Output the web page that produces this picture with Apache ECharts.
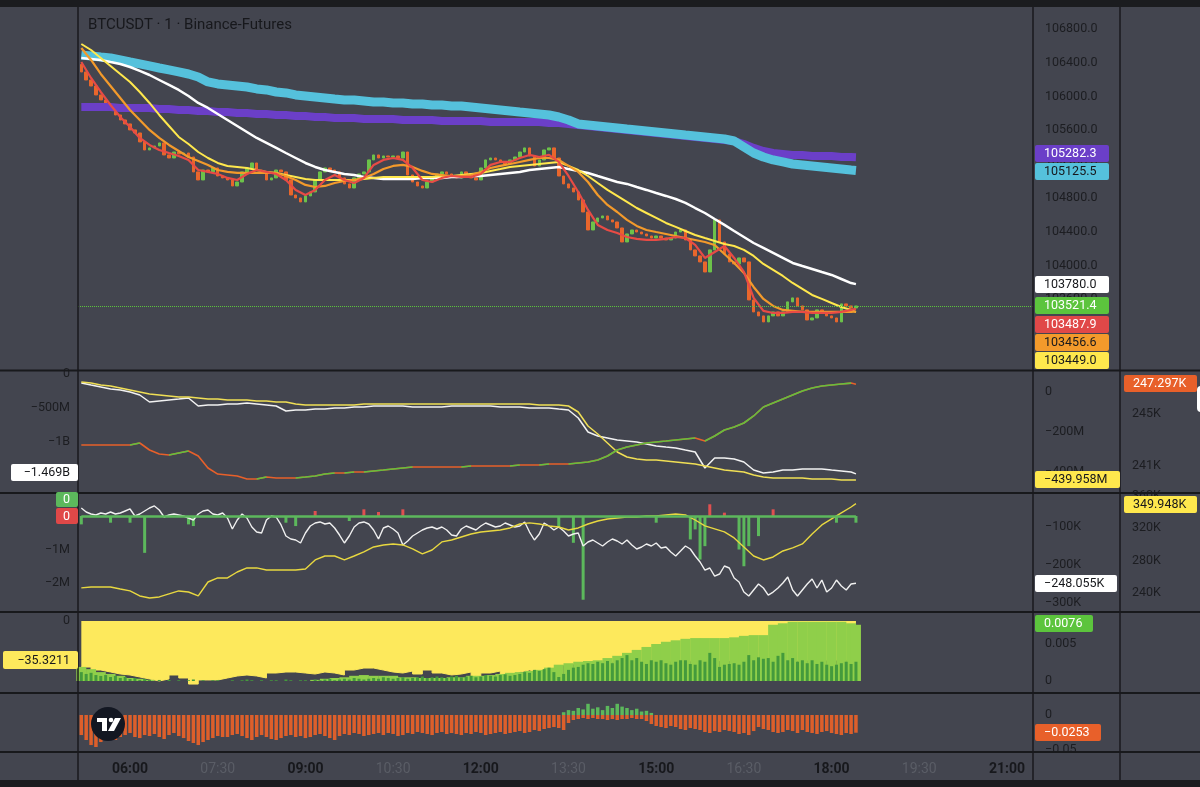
<!DOCTYPE html>
<html>
<head>
<meta charset="utf-8">
<title>BTCUSDT · 1 · Binance-Futures</title>
<script src="https://cdn.jsdelivr.net/npm/echarts@6/dist/echarts.min.js"></script>
<style>
  html, body { margin: 0; padding: 0; background: #43454f; }
  #main { width: 1200px; height: 787px; }
</style>
</head>
<body>
<div id="main"></div>
<script>
// time is in minutes since midnight; 5-min and 10-min samples
var T0 = 310;
var T_END = 1105;
var xTicks = [360, 450, 540, 630, 720, 810, 900, 990, 1080, 1170, 1260];

// ---- main pane: BTCUSDT 1m (sampled every 5 min) ----
var priceOpen = 106380;
var priceClose = [
  106291, 106196, 106125, 106019, 105960, 105912, 105865, 105782, 105723, 105676,
  105605, 105569, 105463, 105368, 105392, 105415, 105451, 105309, 105273, 105344,
  105321, 105332, 105285, 105108, 105013, 105131, 105108, 105155, 105060, 105037,
  105013, 104942, 104989, 105108, 105155, 105214, 105131, 105108, 105013, 105037,
  105131, 105108, 105013, 104835, 104800, 104753, 104824, 104871, 105013, 105108,
  105155, 105131, 105108, 105037, 104966, 104918, 105037, 105084, 105108, 105250,
  105309, 105273, 105297, 105285, 105297, 105273, 105344, 105072, 104989, 104942,
  104918, 104989, 105037, 105084, 105108, 105084, 105060, 105037, 105108, 105084,
  105037, 105013, 105155, 105250, 105273, 105250, 105226, 105202, 105250, 105285,
  105344, 105392, 105297, 105179, 105250, 105368, 105392, 105273, 105060, 104966,
  104918, 104871, 104776, 104634, 104421, 104516, 104563, 104587, 104540, 104516,
  104445, 104279, 104374, 104421, 104397, 104374, 104350, 104326, 104350, 104326,
  104303, 104326, 104397, 104421, 104303, 104185, 104114, 104043, 103924, 104185,
  104540, 104279, 104137, 104043, 104019, 104090, 104043, 103593, 103451, 103404,
  103333, 103404, 103451, 103404, 103451, 103570, 103617, 103522, 103475, 103356,
  103380, 103475, 103451, 103404, 103380, 103333, 103546, 103522, 103498, 103521.4
];

// moving averages (sampled every 10 min, last point at 18:25)
var maRed = [
  106409, 106220, 106054, 105900, 105758, 105640, 105510, 105427, 105368, 105332,
  105297, 105250, 105131, 105108, 105084, 105037, 105013, 105084, 105131, 105108,
  105084, 105013, 104895, 104835, 104895, 105013, 105072, 105013, 104977, 105037,
  105191, 105250, 105273, 105250, 105155, 105013, 104989, 105037, 105060, 105049,
  105049, 105084, 105191, 105226, 105226, 105273, 105309, 105285, 105309, 105226,
  105060, 104871, 104658, 104481, 104421, 104386, 104338, 104315, 104303, 104303,
  104315, 104338, 104326, 104244, 104090, 104161, 104232, 104090, 103924, 103617,
  103463, 103439, 103439, 103451, 103451, 103439, 103439, 103439, 103451, 103475,
  103487.9
];
var maOrange = [
  106575, 106433, 106267, 106125, 105983, 105841, 105723, 105605, 105510, 105427,
  105356, 105285, 105238, 105191, 105131, 105108, 105096, 105096, 105096, 105096,
  105096, 105060, 105013, 104954, 104930, 104942, 104977, 105001, 105013, 105037,
  105084, 105143, 105179, 105191, 105167, 105120, 105084, 105072, 105060, 105060,
  105072, 105108, 105155, 105179, 105202, 105226, 105250, 105273, 105273, 105250,
  105179, 105108, 104989, 104835, 104717, 104634, 104540, 104469, 104421, 104397,
  104374, 104350, 104326, 104303, 104279, 104244, 104137, 104031, 103912, 103747,
  103605, 103522, 103475, 103463, 103451, 103451, 103451, 103451, 103451, 103451,
  103456.6
];
var maYellow = [
  106622, 106551, 106457, 106362, 106267, 106173, 106054, 105924, 105782, 105652,
  105522, 105439, 105344, 105273, 105214, 105179, 105167, 105155, 105131, 105108,
  105096, 105072, 105049, 105025, 105013, 105013, 105013, 105013, 105013, 105025,
  105037, 105049, 105049, 105049, 105049, 105049, 105049, 105060, 105060, 105072,
  105084, 105096, 105120, 105143, 105167, 105179, 105191, 105202, 105214, 105226,
  105179, 105131, 105060, 104977, 104895, 104824, 104753, 104681, 104622, 104563,
  104504, 104457, 104409, 104362, 104326, 104291, 104255, 104232, 104185, 104114,
  104019, 103948, 103877, 103794, 103723, 103652, 103605, 103557, 103510, 103475,
  103449.0
];
var maWhite = [
  106457, 106445, 106433, 106409, 106386, 106350, 106303, 106255, 106196, 106137,
  106078, 106007, 105924, 105865, 105794, 105723, 105652, 105581, 105510, 105451,
  105392, 105332, 105273, 105214, 105167, 105131, 105108, 105084, 105072, 105049,
  105037, 105025, 105025, 105025, 105025, 105037, 105037, 105037, 105049, 105049,
  105060, 105060, 105072, 105084, 105096, 105108, 105131, 105143, 105155, 105167,
  105143, 105120, 105096, 105060, 105025, 104989, 104966, 104930, 104895, 104859,
  104824, 104788, 104741, 104681, 104622, 104551, 104481, 104409, 104338, 104267,
  104208, 104149, 104090, 104031, 103995, 103960, 103924, 103889, 103841, 103793,
  103780.0
];
var maCyan = [
  106492, 106480, 106468, 106457, 106433, 106409, 106386, 106362, 106338, 106315,
  106291, 106267, 106232, 106173, 106149, 106137, 106125, 106113, 106090, 106078,
  106054, 106043, 106019, 106007, 105995, 105983, 105971, 105960, 105960, 105948,
  105936, 105936, 105924, 105924, 105912, 105912, 105900, 105900, 105889, 105889,
  105877, 105865, 105853, 105841, 105829, 105817, 105806, 105794, 105782, 105758,
  105723, 105676, 105664, 105652, 105640, 105628, 105616, 105605, 105593, 105581,
  105569, 105557, 105545, 105534, 105522, 105510, 105498, 105474, 105403, 105332,
  105285, 105250, 105226, 105202, 105191, 105179, 105167, 105155, 105143, 105131,
  105125.5
];
var maPurple = [
  105877, 105877, 105877, 105877, 105865, 105865, 105865, 105865, 105853, 105853,
  105841, 105841, 105829, 105829, 105817, 105817, 105806, 105806, 105794, 105794,
  105782, 105782, 105770, 105770, 105758, 105758, 105747, 105747, 105747, 105735,
  105735, 105735, 105735, 105723, 105723, 105723, 105723, 105711, 105711, 105711,
  105711, 105711, 105699, 105699, 105699, 105699, 105699, 105699, 105687, 105687,
  105676, 105664, 105652, 105640, 105628, 105616, 105605, 105593, 105581, 105569,
  105557, 105545, 105534, 105522, 105510, 105498, 105486, 105474, 105439, 105392,
  105356, 105332, 105321, 105309, 105309, 105297, 105297, 105297, 105285, 105285,
  105282.3
];

// ---- pane 2 (10-min) ----
var p2White = [   // M, left scale
  -132, -162, -191, -221, -235, -265, -309, -412, -397, -382,
  -368, -353, -471, -456, -456, -441, -441, -426, -441, -456,
  -471, -544, -529, -529, -515, -515, -500, -500, -485, -485,
  -471, -471, -471, -471, -485, -485, -485, -485, -471, -471,
  -471, -471, -471, -485, -485, -485, -500, -500, -500, -515,
  -529, -647, -853, -912, -941, -971, -985, -1000, -1029, -1059,
  -1074, -1088, -1118, -1147, -1382, -1235, -1235, -1250, -1294, -1412,
  -1456, -1441, -1412, -1412, -1397, -1397, -1397, -1412, -1426, -1441,
  -1469
];
var p2Yellow = [  // M, right scale
  50, 45, 35, 30, 20, 10, 0, -10, -15, -20,
  -25, -25, -30, -35, -35, -40, -40, -40, -45, -45,
  -50, -50, -60, -65, -65, -65, -65, -65, -65, -60,
  -60, -60, -60, -60, -60, -60, -60, -60, -60, -60,
  -60, -60, -60, -60, -60, -60, -60, -65, -65, -65,
  -70, -100, -170, -210, -255, -300, -325, -335, -340, -340,
  -345, -350, -355, -360, -370, -380, -390, -395, -400, -415,
  -425, -430, -430, -430, -430, -435, -435, -435, -440, -440,
  -439.958
];
var p2Delta = [   // K, outer right scale
  242.62, 242.62, 242.62, 242.62, 242.62, 242.62, 242.77, 242.23, 241.92, 241.85,
  242.0, 242.15, 241.77, 240.85, 240.38, 240.31, 240.23, 240.0, 240.0, 240.15,
  240.08, 240.08, 240.08, 240.15, 240.23, 240.38, 240.46, 240.46, 240.54, 240.54,
  240.62, 240.69, 240.77, 240.85, 240.92, 240.92, 240.92, 240.92, 240.92, 240.92,
  241.0, 241.0, 241.0, 241.0, 241.0, 241.08, 241.08, 241.08, 241.15, 241.15,
  241.15, 241.23, 241.31, 241.46, 241.77, 242.23, 242.46, 242.62, 242.77, 242.85,
  242.92, 243.0, 243.08, 243.15, 242.92, 243.31, 243.77, 244.0, 244.31, 244.85,
  245.54, 245.85, 246.15, 246.46, 246.77, 247.0, 247.15, 247.23, 247.31, 247.38,
  247.297
];

// ---- pane 3 ----
var p3White = [   // K, 5-min
  -50.0, -60.5, -65.8, -68.4, -63.2, -65.8, -60.5, -65.8, -63.2, -57.9,
  -52.6, -71.1, -65.8, -57.9, -50.0, -44.7, -55.3, -73.7, -68.4, -65.8,
  -68.4, -71.1, -76.3, -81.6, -65.8, -57.9, -55.3, -65.8, -68.4, -63.2,
  -76.3, -105.3, -81.6, -65.8, -76.3, -100.0, -113.2, -115.8, -81.6, -71.1,
  -73.7, -94.7, -123.7, -131.6, -134.2, -142.1, -115.8, -97.4, -89.5, -86.8,
  -92.1, -89.5, -102.6, -121.1, -142.1, -123.7, -100.0, -89.5, -86.8, -92.1,
  -107.9, -131.6, -102.6, -97.4, -105.3, -115.8, -147.4, -136.8, -123.7, -115.8,
  -107.9, -102.6, -100.0, -105.3, -100.0, -107.9, -121.1, -123.7, -105.3, -97.4,
  -102.6, -107.9, -97.4, -89.5, -94.7, -100.0, -97.4, -89.5, -94.7, -100.0,
  -97.4, -86.8, -113.2, -134.2, -118.4, -89.5, -97.4, -107.9, -100.0, -110.5,
  -123.7, -118.4, -115.8, -150.0, -139.5, -134.2, -142.1, -150.0, -139.5, -131.6,
  -136.8, -144.7, -134.2, -147.4, -157.9, -152.6, -144.7, -150.0, -142.1, -155.3,
  -152.6, -165.8, -176.3, -163.2, -150.0, -157.9, -176.3, -192.1, -213.2, -207.9,
  -229.0, -223.7, -202.6, -207.9, -234.2, -244.8, -271.1, -281.6, -265.8, -250.0,
  -260.5, -279.0, -271.1, -260.5, -247.4, -231.6, -265.8, -281.6, -265.8, -250.0,
  -236.8, -260.5, -239.5, -271.1, -260.5, -239.5, -255.3, -265.8, -250.0, -248.055
];
var p3Yellow = [  // K, 10-min
  246.2, 247.4, 247.4, 247.4, 244.9, 242.5, 236.3, 233.8, 235.1, 238.8,
  242.5, 241.2, 236.3, 253.5, 258.5, 258.5, 265.8, 270.8, 270.8, 268.3,
  268.3, 268.3, 268.3, 269.5, 280.6, 285.5, 285.5, 280.6, 285.5, 290.5,
  296.6, 299.1, 300.3, 299.1, 294.2, 288.0, 292.9, 302.8, 305.2, 308.9,
  312.6, 315.1, 316.3, 317.5, 320.0, 324.9, 326.2, 324.9, 322.5, 321.2,
  317.5, 320.0, 324.9, 328.6, 331.1, 332.3, 333.5, 333.5, 334.8, 334.8,
  336.0, 337.2, 336.0, 329.8, 322.5, 318.8, 315.1, 307.7, 296.6, 285.5,
  280.6, 284.3, 291.7, 295.4, 300.3, 312.6, 323.7, 331.1, 338.5, 345.8,
  349.948
];
// histogram spikes [minute, M]
var p3HistDown = [
  [310, -0.25], [340, -0.2], [360, -0.2], [375, -1.1], [420, -0.25], [425, -0.3],
  [520, -0.2], [530, -0.3], [585, -0.15], [800, -0.35], [815, -0.8], [825, -2.5],
  [900, -0.2], [935, -0.7], [940, -0.4], [945, -1.3], [950, -0.9], [985, -1.0],
  [990, -1.5], [995, -0.9], [1005, -0.6], [1085, -0.2], [1105, -0.2]
];
var p3HistUp = [
  [550, 0.15], [600, 0.2], [615, 0.12], [640, 0.2], [955, 0.35], [970, 0.1], [1020, 0.2]
];

// ---- pane 4 ----
var p4Yellow = [  // left scale, 10-min
  -41.7, -44.4, -46.2, -48.0, -48.9, -50.7, -52.5, -54.3, -52.5, -48.9,
  -51.6, -57.1, -53.4, -53.4, -51.6, -49.8, -48.9, -49.8, -51.6, -47.1,
  -46.2, -46.2, -47.1, -48.0, -46.2, -47.1, -48.9, -44.4, -42.6, -42.6,
  -44.4, -46.2, -47.1, -45.3, -48.0, -44.4, -47.1, -48.9, -48.0, -46.2,
  -49.8, -47.1, -45.3, -48.0, -46.2, -44.4, -46.2, -45.3, -42.6, -39.8,
  -38.0, -37.6, -37.4, -37.2, -37.0, -36.8, -36.6, -36.5, -36.4, -36.3,
  -36.2, -36.1, -36.0, -35.9, -35.9, -35.8, -35.8, -35.7, -35.7, -35.6,
  -35.6, -35.5, -35.5, -35.5, -35.4, -35.4, -35.4, -35.4, -35.3, -35.3,
  -35.3211
];
var p4Light = [   // right scale, 10-min
  0.0019, 0.0016, 0.0012, 0.00095, 0.0007, 0.0004, 0.0003, 0.00015, 0, 0,
  0, 0, 0, 0, 0, 0, 0, 0, 0, 0,
  0, 0, 0, 0, 0.00015, 0.0003, 0.0004, 0.0005, 0.0007, 0.0008,
  0.0007, 0.0007, 0.0007, 0.0005, 0.0005, 0.0004, 0.0004, 0.0004, 0.0005, 0.0005,
  0.0007, 0.0007, 0.0008, 0.00095, 0.0011, 0.0012, 0.00135, 0.0015, 0.0018, 0.0022,
  0.0024, 0.0026, 0.0027, 0.0028, 0.0031, 0.0034, 0.0038, 0.0042, 0.0046, 0.005,
  0.0053, 0.0055, 0.0057, 0.0058, 0.0058, 0.0058, 0.0058, 0.0059, 0.0061, 0.0062,
  0.0062, 0.0076, 0.0078, 0.008, 0.008, 0.008, 0.008, 0.008, 0.008, 0.0078,
  0.0076
];
var p4Dark = [    // right scale, 5-min
  0.0012, 0.00095, 0.0011, 0.0008, 0.00068, 0.0008, 0.00054, 0.00068, 0.0004, 0.00054,
  0.00027, 0.0004, 0.00014, 0.00027, 0.00014, 0, 0.00014, 0, 0.00014, 0,
  0.0001, 0, 0.0001, 0.0002, 0, 0.0001, 0, 0.0001, 0.0001, 0,
  0, 0.0001, 0, 0.0001, 0.0002, 0.0001, 0, 0.0001, 0, 0.0001,
  0.0001, 0, 0.0002, 0.0001, 0, 0.0001, 0.0001, 0, 0.0002, 0.0001,
  0.0002, 0.0003, 0.0001, 0.0002, 0.0003, 0.0002, 0.0004, 0.0003, 0.0002, 0.0003,
  0.0004, 0.0003, 0.0005, 0.0004, 0.0003, 0.0004, 0.0005, 0.0003, 0.0004, 0.0005,
  0.0006, 0.0004, 0.0005, 0.0006, 0.0005, 0.0004, 0.0006, 0.0007, 0.0005, 0.0006,
  0.0007, 0.0005, 0.0006, 0.0008, 0.0007, 0.0006, 0.0008, 0.0009, 0.0007, 0.0008,
  0.00095, 0.0012, 0.0011, 0.0015, 0.00135, 0.0016, 0.0018, 0.0012, 0.00054, 0.00095,
  0.0015, 0.0018, 0.0019, 0.0022, 0.0024, 0.0023, 0.0026, 0.0024, 0.0027, 0.0024,
  0.0028, 0.0031, 0.0035, 0.0028, 0.0031, 0.0026, 0.0023, 0.0028, 0.0026, 0.0028,
  0.0024, 0.0022, 0.0026, 0.0028, 0.0028, 0.0023, 0.0022, 0.0028, 0.0026, 0.0038,
  0.0031, 0.0019, 0.0022, 0.0023, 0.0024, 0.0022, 0.0026, 0.0035, 0.0028, 0.0032,
  0.003, 0.0031, 0.0026, 0.0034, 0.0038, 0.0028, 0.0031, 0.0026, 0.0028, 0.0024,
  0.0028, 0.0023, 0.0026, 0.0022, 0.002, 0.0022, 0.0024, 0.0026, 0.0023, 0.0026
];

// ---- pane 5 ----
var p5Down = [    // 5-min
  -0.0286, -0.0357, -0.0429, -0.0457, -0.0386, -0.0329, -0.03, -0.0357, -0.0314, -0.0286,
  -0.0257, -0.0314, -0.0329, -0.0286, -0.03, -0.0271, -0.0314, -0.0343, -0.0286, -0.0257,
  -0.03, -0.0329, -0.0371, -0.04, -0.0429, -0.0386, -0.0357, -0.0329, -0.03, -0.0314,
  -0.0314, -0.0286, -0.0271, -0.03, -0.0329, -0.0357, -0.0314, -0.0286, -0.0314, -0.0343,
  -0.0357, -0.0329, -0.03, -0.0286, -0.0314, -0.03, -0.0329, -0.0314, -0.0286, -0.0271,
  -0.03, -0.0329, -0.0357, -0.03, -0.0271, -0.0286, -0.0257, -0.0271, -0.03, -0.0286,
  -0.0271, -0.0257, -0.0286, -0.0257, -0.0271, -0.03, -0.0286, -0.0257, -0.0271, -0.0243,
  -0.0257, -0.0271, -0.0286, -0.0257, -0.0243, -0.0271, -0.0257, -0.0271, -0.0286, -0.0257,
  -0.0271, -0.0243, -0.0257, -0.0286, -0.0271, -0.0257, -0.0243, -0.0271, -0.0257, -0.0243,
  -0.0229, -0.0257, -0.0243, -0.0214, -0.0229, -0.02, -0.0186, -0.0171, -0.0186, -0.0214,
  -0.0114, -0.0071, -0.0057, -0.0043, -0.0057, -0.0043, -0.0057, -0.0057, -0.0071, -0.0057,
  -0.0071, -0.0057, -0.0057, -0.0043, -0.0057, -0.0057, -0.0086, -0.0129, -0.0157, -0.0171,
  -0.0186, -0.0157, -0.0171, -0.02, -0.0214, -0.0186, -0.02, -0.0214, -0.0243, -0.0257,
  -0.0229, -0.0243, -0.0214, -0.0229, -0.0243, -0.0271, -0.0257, -0.0286, -0.0229, -0.0171,
  -0.02, -0.0214, -0.0243, -0.0257, -0.0243, -0.0214, -0.0229, -0.0257, -0.0214, -0.0243,
  -0.0257, -0.0271, -0.0243, -0.0229, -0.0257, -0.0271, -0.0286, -0.0257, -0.0271, -0.0253
];
var p5Up = [
  [805, 0.004], [810, 0.007], [815, 0.006], [820, 0.01], [825, 0.008], [830, 0.016],
  [835, 0.009], [840, 0.011], [845, 0.007], [850, 0.013], [855, 0.01], [860, 0.016],
  [865, 0.012], [870, 0.01], [875, 0.007], [880, 0.009], [885, 0.005], [890, 0.006], [895, 0.003]
];

var FONT = "Roboto, 'Liberation Sans', sans-serif";
var AXIS_TXT = "#1c1d21";

function times5(n) {
  var a = [];
  for (var i = 0; i < n; i++) a.push(T0 + i * 5);
  return a;
}
function times10(n) {
  var a = [];
  for (var i = 0; i < n; i++) a.push(i === n - 1 ? T_END : T0 + i * 10);
  return a;
}
function pairs(ts, vs) {
  return vs.map(function (v, i) { return [ts[i], v]; });
}
// only the rising segments, split with empty points
function risingSegments(ts, vs) {
  var out = [];
  for (var i = 1; i < vs.length; i++) {
    if (vs[i] > vs[i - 1]) {
      out.push([ts[i - 1], vs[i - 1]], [ts[i], vs[i]], [ts[i], "-"]);
    }
  }
  return out;
}
function minus(s) { return "\u2212" + s; }

function xAx(grid, showLabel) {
  return {
    type: "value", gridIndex: grid, min: 306.6, max: 1286.7,
    axisLine: { show: false }, axisTick: { show: false }, splitLine: { show: false },
    axisLabel: showLabel ? {
      customValues: xTicks, margin: 11,
      formatter: function (v) {
        var h = Math.floor(v / 60), m = v % 60;
        var s = (h < 10 ? "0" : "") + h + ":" + (m < 10 ? "0" : "") + m;
        return m === 0 ? "{b|" + s + "}" : "{n|" + s + "}";
      },
      rich: {
        b: { fontFamily: FONT, fontSize: 14, fontWeight: "bold", color: "#17181c" },
        n: { fontFamily: FONT, fontSize: 14, color: "#5a5d66" }
      }
    } : { show: false }
  };
}
function yAx(grid, pos, min, max, ticks, fmt, offset) {
  return {
    type: "value", gridIndex: grid, position: pos, offset: offset || 0,
    min: min, max: max,
    axisLine: { show: false }, axisTick: { show: false }, splitLine: { show: false },
    axisLabel: {
      customValues: ticks, formatter: fmt, color: AXIS_TXT,
      fontFamily: FONT, fontSize: 12.5, margin: pos === "left" ? 8 : 12
    }
  };
}
function badge(x, y, w, h, bg, fg, text, align) {
  return {
    type: "group", z: 100,
    children: [
      { type: "rect", z: 100, shape: { x: x, y: y, width: w, height: h, r: 2 }, style: { fill: bg } },
      { type: "text", z: 101, style: {
        text: text, x: align === "right" ? x + w - 8 : x + 9, y: y + h / 2 + 0.5,
        align: align || "left", verticalAlign: "middle", fill: fg,
        font: "12.5px " + FONT
      } }
    ]
  };
}
function hline(y, x1, x2, w) {
  return { type: "line", z: 99, shape: { x1: x1, y1: y, x2: x2, y2: y }, style: { stroke: "#18191c", lineWidth: w || 2 } };
}
function vline(x, y1, y2) {
  return { type: "line", z: 99, shape: { x1: x, y1: y1, x2: x, y2: y2 }, style: { stroke: "#18191c", lineWidth: 1.5 } };
}
function lineSeries(xi, yi, data, color, width, extra) {
  var s = {
    type: "line", xAxisIndex: xi, yAxisIndex: yi, data: data,
    showSymbol: false, symbol: "none", silent: true,
    lineStyle: { color: color, width: width }
  };
  for (var k in extra) s[k] = extra[k];
  return s;
}

function init_chart(container) {
  var chart = echarts.init(document.getElementById(container), null, { renderer: "canvas" });
  var t5 = times5(priceClose.length);
  var t10 = times10(maRed.length);

  var candles = priceClose.map(function (c, i) {
    var o = i === 0 ? priceOpen : priceClose[i - 1];
    return [t5[i], o, c, Math.min(o, c), Math.max(o, c)];
  });
  var lastClose = priceClose[priceClose.length - 1];

  var option = {
    animation: false,
    backgroundColor: "#43454f",
    grid: [
      { left: 78, right: 167, top: 8, height: 362 },
      { left: 78, right: 167, top: 371, height: 121 },
      { left: 78, right: 167, top: 494, height: 117 },
      { left: 78, right: 167, top: 613, height: 79 },
      { left: 78, right: 167, top: 694, height: 57 }
    ],
    xAxis: [xAx(0), xAx(1), xAx(2), xAx(3), xAx(3), xAx(4, true)],
    yAxis: [
      yAx(0, "right", 102764, 107048,
        [103600, 104000, 104400, 104800, 105200, 105600, 106000, 106400, 106800],
        function (v) { return v.toFixed(1); }),
      yAx(1, "left", -1735, 44, [0, -500, -1000, -1500], function (v) {
        if (v === 0) return "0";
        return Math.abs(v) >= 1000 ? minus(Math.abs(v) / 1000 + "B") : minus(Math.abs(v) + "M");
      }),
      yAx(1, "right", -500, 105, [0, -200, -400], function (v) {
        return v === 0 ? "0" : minus(Math.abs(v) + "M");
      }),
      yAx(1, "right", 239.0, 248.31, [241, 245], function (v) { return v + "K"; }, 87),
      yAx(2, "left", -2.836, 0.657, [0, -1, -2], function (v) {
        return v === 0 ? "0" : minus(Math.abs(v) + "M");
      }),
      yAx(2, "right", -321, -13.2, [-100, -200, -300], function (v) { return minus(Math.abs(v) + "K"); }),
      yAx(2, "right", 217.8, 361.8, [240, 280, 320, 360], function (v) { return v + "K"; }, 87),
      yAx(3, "left", -64.3, 7.25, [0], function () { return "0"; }),
      yAx(3, "right", -0.00149, 0.00919, [0, 0.005], function (v) { return v === 0 ? "0" : String(v); }),
      yAx(4, "right", -0.0514, 0.03, [0, -0.05], function (v) { return v === 0 ? "0" : minus(Math.abs(v)); })
    ],
    series: [
      {
        type: "candlestick", xAxisIndex: 0, yAxisIndex: 0, data: candles,
        encode: { x: 0, y: [1, 2, 3, 4] }, barWidth: 3, silent: true,
        itemStyle: { color: "#6cc24a", color0: "#e8662c", borderColor: "#6cc24a", borderColor0: "#e8662c", borderWidth: 1 },
        markLine: {
          silent: true, symbol: "none", label: { show: false },
          lineStyle: { type: "dotted", color: "#5cc43d", width: 1 },
          data: [{ yAxis: lastClose }]
        }
      },
      lineSeries(0, 0, pairs(t10, maPurple), "#6b3fc8", 8),
      lineSeries(0, 0, pairs(t10, maCyan), "#55c1dc", 9),
      lineSeries(0, 0, pairs(t10, maWhite), "#ffffff", 2.5),
      lineSeries(0, 0, pairs(t10, maYellow), "#ffe84d", 2),
      lineSeries(0, 0, pairs(t10, maOrange), "#f39a2b", 2.2),
      lineSeries(0, 0, pairs(t10, maRed), "#e84b45", 2.2),

      lineSeries(1, 1, pairs(t10, p2White), "#f2f2f2", 1.5),
      lineSeries(1, 2, pairs(t10, p2Yellow), "#f0df55", 1.5),
      lineSeries(1, 3, pairs(t10, p2Delta), "#e8602a", 1.6),
      lineSeries(1, 3, risingSegments(t10, p2Delta), "#62c03f", 1.6, { connectNulls: false }),

      {
        type: "bar", xAxisIndex: 2, yAxisIndex: 4, data: p3HistDown, barWidth: 3, barGap: "-100%",
        silent: true, itemStyle: { color: "#5cb85c" },
        markLine: {
          silent: true, symbol: "none", label: { show: false },
          lineStyle: { type: "solid", color: "#5cb85c", width: 2.5 },
          data: [[{ coord: [T0, 0] }, { coord: [T_END, 0] }]]
        }
      },
      { type: "bar", xAxisIndex: 2, yAxisIndex: 4, data: p3HistUp, barWidth: 3, barGap: "-100%",
        silent: true, itemStyle: { color: "#e05050" } },
      lineSeries(2, 5, pairs(t5, p3White), "#f0f0f0", 1.4),
      lineSeries(2, 6, pairs(t10, p3Yellow), "#e8d840", 1.4),

      lineSeries(3, 7, pairs(t10, p4Yellow), "#fde95c", 1, {
        step: "end", z: 1, areaStyle: { color: "#fde95c", opacity: 1 }
      }),
      { type: "bar", xAxisIndex: 3, yAxisIndex: 8, data: pairs(t10, p4Light), barWidth: 10, z: 3,
        silent: true, itemStyle: { color: "#8fcf4a" } },
      { type: "bar", xAxisIndex: 4, yAxisIndex: 8, data: pairs(t5, p4Dark), barWidth: 3, z: 4,
        silent: true, itemStyle: { color: "#449a3c" } },

      { type: "bar", xAxisIndex: 5, yAxisIndex: 9, data: pairs(t5, p5Down), barWidth: 3.5, barGap: "-100%",
        silent: true, itemStyle: { color: "#dd5f2b" } },
      { type: "bar", xAxisIndex: 5, yAxisIndex: 9, data: p5Up, barWidth: 3.5, barGap: "-100%",
        silent: true, itemStyle: { color: "#5cb85c" } }
    ],
    graphic: [
      { type: "rect", z: 98, shape: { x: 0, y: 0, width: 1200, height: 7 }, style: { fill: "#1b1c1f" } },
      { type: "rect", z: 98, shape: { x: 0, y: 780, width: 1200, height: 7 }, style: { fill: "#1b1c1f" } },
      hline(370.5, 0, 1200), hline(493, 0, 1200), hline(612, 0, 1200), hline(693, 0, 1200), hline(752, 0, 1200),
      vline(78, 7, 780), vline(1033, 7, 780), vline(1120, 7, 780),
      { type: "text", z: 100, style: {
        text: "BTCUSDT \u00b7 1 \u00b7 Binance-Futures", x: 88, y: 25, align: "left", verticalAlign: "middle",
        fill: "#17181c", font: "15px " + FONT
      } },
      // last-value tags, main pane
      badge(1035, 145, 74, 17, "#6b3fc8", "#ffffff", maPurple[maPurple.length - 1].toFixed(1)),
      badge(1035, 163, 74, 17, "#55c1dc", "#17181c", maCyan[maCyan.length - 1].toFixed(1)),
      badge(1035, 276, 74, 17, "#ffffff", "#17181c", maWhite[maWhite.length - 1].toFixed(1)),
      badge(1035, 297, 74, 17, "#5cc43d", "#ffffff", lastClose.toFixed(1)),
      badge(1035, 316, 74, 17, "#e04848", "#ffffff", maRed[maRed.length - 1].toFixed(1)),
      badge(1035, 334, 74, 17, "#f39a2b", "#17181c", maOrange[maOrange.length - 1].toFixed(1)),
      badge(1035, 352, 74, 17, "#ffe84d", "#17181c", maYellow[maYellow.length - 1].toFixed(1)),
      // pane 2
      badge(11, 464, 67, 17, "#ffffff", "#17181c", minus("1.469B"), "right"),
      badge(1035, 471, 85, 17, "#ffe84d", "#17181c", minus("439.958M")),
      badge(1124, 375, 73, 17, "#e8602a", "#ffffff", "247.297K"),
      { type: "rect", z: 100, shape: { x: 1197, y: 386, width: 10, height: 26, r: 4 }, style: { fill: "#ffffff" } },
      // pane 3
      badge(56, 492, 22, 15, "#5cb85c", "#ffffff", "0", "right"),
      badge(56, 508, 22, 16, "#e04848", "#ffffff", "0", "right"),
      badge(1035, 575, 82, 17, "#ffffff", "#17181c", minus("248.055K")),
      badge(1124, 496, 73, 17, "#ffe84d", "#17181c", "349.948K"),
      // pane 4
      badge(3, 651, 75, 18, "#fde95c", "#17181c", minus("35.3211"), "right"),
      badge(1035, 615, 58, 17, "#5cc43d", "#ffffff", "0.0076"),
      // pane 5
      badge(1035, 724, 66, 17, "#e8602a", "#ffffff", minus("0.0253")),
      // TradingView mark
      { type: "circle", z: 100, shape: { cx: 108, cy: 724, r: 17 }, style: { fill: "#131722" } },
      { type: "rect", z: 101, shape: { x: 97, y: 718, width: 10, height: 4 }, style: { fill: "#ffffff" } },
      { type: "rect", z: 101, shape: { x: 102, y: 718, width: 5, height: 13 }, style: { fill: "#ffffff" } },
      { type: "circle", z: 101, shape: { cx: 111, cy: 720, r: 2.3 }, style: { fill: "#ffffff" } },
      { type: "polygon", z: 101, shape: { points: [[115, 718], [121, 718], [114, 731], [108, 731]] }, style: { fill: "#ffffff" } }
    ]
  };

  option && chart.setOption(option);
  window.addEventListener("resize", function () {
    chart.resize();
  });
}

init_chart("main");
</script>
</body>
</html>
